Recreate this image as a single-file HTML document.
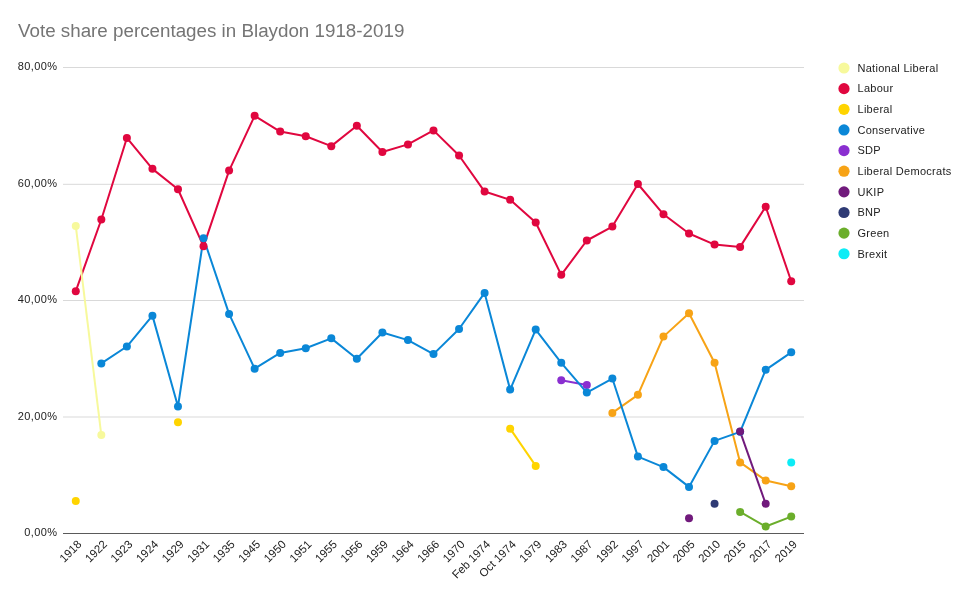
<!DOCTYPE html>
<html><head><meta charset="utf-8"><style>
html,body{margin:0;padding:0;background:#fff;width:960px;height:601px;overflow:hidden}
svg{display:block;will-change:transform}
text{font-family:"Liberation Sans",sans-serif}
.ti{font-size:18.8px;fill:#757575}
.ax{font-size:11.5px;fill:#222}
.ay{font-size:11px;fill:#222;letter-spacing:0.4px}
.lg{font-size:11px;fill:#222;letter-spacing:0.28px}
</style></head><body>
<svg width="960" height="601" viewBox="0 0 960 601">
<rect width="960" height="601" fill="#fff"/>
<text x="18" y="37.2" class="ti">Vote share percentages in Blaydon 1918-2019</text>
<rect x="63.0" y="416.50" width="741.0" height="1" fill="#d9d9d9"/>
<rect x="63.0" y="300.00" width="741.0" height="1" fill="#d9d9d9"/>
<rect x="63.0" y="183.80" width="741.0" height="1" fill="#d9d9d9"/>
<rect x="63.0" y="67.00" width="741.0" height="1" fill="#d9d9d9"/>
<rect x="63.0" y="533.0" width="741.0" height="1" fill="#5a5a5a"/>
<text x="57.4" y="536.40" text-anchor="end" class="ay">0,00%</text>
<text x="57.4" y="419.90" text-anchor="end" class="ay">20,00%</text>
<text x="57.4" y="303.40" text-anchor="end" class="ay">40,00%</text>
<text x="57.4" y="186.90" text-anchor="end" class="ay">60,00%</text>
<text x="57.4" y="70.40" text-anchor="end" class="ay">80,00%</text>
<text transform="translate(82.28,545) rotate(-45)" text-anchor="end" class="ax">1918</text>
<text transform="translate(107.83,545) rotate(-45)" text-anchor="end" class="ax">1922</text>
<text transform="translate(133.38,545) rotate(-45)" text-anchor="end" class="ax">1923</text>
<text transform="translate(158.93,545) rotate(-45)" text-anchor="end" class="ax">1924</text>
<text transform="translate(184.48,545) rotate(-45)" text-anchor="end" class="ax">1929</text>
<text transform="translate(210.03,545) rotate(-45)" text-anchor="end" class="ax">1931</text>
<text transform="translate(235.59,545) rotate(-45)" text-anchor="end" class="ax">1935</text>
<text transform="translate(261.14,545) rotate(-45)" text-anchor="end" class="ax">1945</text>
<text transform="translate(286.69,545) rotate(-45)" text-anchor="end" class="ax">1950</text>
<text transform="translate(312.24,545) rotate(-45)" text-anchor="end" class="ax">1951</text>
<text transform="translate(337.79,545) rotate(-45)" text-anchor="end" class="ax">1955</text>
<text transform="translate(363.34,545) rotate(-45)" text-anchor="end" class="ax">1956</text>
<text transform="translate(388.90,545) rotate(-45)" text-anchor="end" class="ax">1959</text>
<text transform="translate(414.45,545) rotate(-45)" text-anchor="end" class="ax">1964</text>
<text transform="translate(440.00,545) rotate(-45)" text-anchor="end" class="ax">1966</text>
<text transform="translate(465.55,545) rotate(-45)" text-anchor="end" class="ax">1970</text>
<text transform="translate(491.10,545) rotate(-45)" text-anchor="end" class="ax">Feb 1974</text>
<text transform="translate(516.66,545) rotate(-45)" text-anchor="end" class="ax">Oct 1974</text>
<text transform="translate(542.21,545) rotate(-45)" text-anchor="end" class="ax">1979</text>
<text transform="translate(567.76,545) rotate(-45)" text-anchor="end" class="ax">1983</text>
<text transform="translate(593.31,545) rotate(-45)" text-anchor="end" class="ax">1987</text>
<text transform="translate(618.86,545) rotate(-45)" text-anchor="end" class="ax">1992</text>
<text transform="translate(644.41,545) rotate(-45)" text-anchor="end" class="ax">1997</text>
<text transform="translate(669.97,545) rotate(-45)" text-anchor="end" class="ax">2001</text>
<text transform="translate(695.52,545) rotate(-45)" text-anchor="end" class="ax">2005</text>
<text transform="translate(721.07,545) rotate(-45)" text-anchor="end" class="ax">2010</text>
<text transform="translate(746.62,545) rotate(-45)" text-anchor="end" class="ax">2015</text>
<text transform="translate(772.17,545) rotate(-45)" text-anchor="end" class="ax">2017</text>
<text transform="translate(797.72,545) rotate(-45)" text-anchor="end" class="ax">2019</text>
<polyline points="740.12,511.95 765.67,526.51 791.22,516.61" fill="none" stroke="#6bae2b" stroke-width="2" stroke-linejoin="round"/>
<polyline points="612.36,412.92 637.91,394.87 663.47,336.62 689.02,313.31 714.57,362.83 740.12,462.44 765.67,480.49 791.22,486.32" fill="none" stroke="#f7a316" stroke-width="2" stroke-linejoin="round"/>
<polyline points="561.26,380.30 586.81,384.96" fill="none" stroke="#8a2fd0" stroke-width="2" stroke-linejoin="round"/>
<polyline points="101.33,363.41 126.88,346.52 152.43,315.64 177.98,406.51 203.53,238.17 229.09,313.90 254.64,368.65 280.19,352.92 305.74,348.26 331.29,338.36 356.84,358.75 382.40,332.54 407.95,340.11 433.50,354.09 459.05,329.04 484.60,292.93 510.16,389.62 535.71,329.62 561.26,362.83 586.81,392.53 612.36,378.55 637.91,456.61 663.47,467.10 689.02,486.90 714.57,440.88 740.12,431.85 765.67,369.82 791.22,352.34" fill="none" stroke="#0a87d7" stroke-width="2" stroke-linejoin="round"/>
<polyline points="740.12,431.56 765.67,503.79" fill="none" stroke="#711a7c" stroke-width="2" stroke-linejoin="round"/>
<polyline points="510.16,428.65 535.71,465.93" fill="none" stroke="#ffd400" stroke-width="2" stroke-linejoin="round"/>
<polyline points="75.78,291.18 101.33,219.53 126.88,137.98 152.43,168.86 177.98,189.24 203.53,246.33 229.09,170.60 254.64,115.85 280.19,131.57 305.74,136.23 331.29,146.14 356.84,125.75 382.40,151.96 407.95,144.39 433.50,130.41 459.05,155.46 484.60,191.57 510.16,199.73 535.71,222.44 561.26,274.87 586.81,240.50 612.36,226.52 637.91,184.00 663.47,214.29 689.02,233.51 714.57,244.58 740.12,246.91 765.67,206.72 791.22,281.28" fill="none" stroke="#e0073f" stroke-width="2" stroke-linejoin="round"/>
<polyline points="75.78,225.94 101.33,435.06" fill="none" stroke="#f7f99c" stroke-width="2" stroke-linejoin="round"/>
<circle cx="791.22" cy="462.44" r="4" fill="#0cecf6"/>
<circle cx="740.12" cy="511.95" r="4" fill="#6bae2b"/>
<circle cx="765.67" cy="526.51" r="4" fill="#6bae2b"/>
<circle cx="791.22" cy="516.61" r="4" fill="#6bae2b"/>
<circle cx="714.57" cy="503.79" r="4" fill="#2e3a74"/>
<circle cx="612.36" cy="412.92" r="4" fill="#f7a316"/>
<circle cx="637.91" cy="394.87" r="4" fill="#f7a316"/>
<circle cx="663.47" cy="336.62" r="4" fill="#f7a316"/>
<circle cx="689.02" cy="313.31" r="4" fill="#f7a316"/>
<circle cx="714.57" cy="362.83" r="4" fill="#f7a316"/>
<circle cx="740.12" cy="462.44" r="4" fill="#f7a316"/>
<circle cx="765.67" cy="480.49" r="4" fill="#f7a316"/>
<circle cx="791.22" cy="486.32" r="4" fill="#f7a316"/>
<circle cx="561.26" cy="380.30" r="4" fill="#8a2fd0"/>
<circle cx="586.81" cy="384.96" r="4" fill="#8a2fd0"/>
<circle cx="101.33" cy="363.41" r="4" fill="#0a87d7"/>
<circle cx="126.88" cy="346.52" r="4" fill="#0a87d7"/>
<circle cx="152.43" cy="315.64" r="4" fill="#0a87d7"/>
<circle cx="177.98" cy="406.51" r="4" fill="#0a87d7"/>
<circle cx="203.53" cy="238.17" r="4" fill="#0a87d7"/>
<circle cx="229.09" cy="313.90" r="4" fill="#0a87d7"/>
<circle cx="254.64" cy="368.65" r="4" fill="#0a87d7"/>
<circle cx="280.19" cy="352.92" r="4" fill="#0a87d7"/>
<circle cx="305.74" cy="348.26" r="4" fill="#0a87d7"/>
<circle cx="331.29" cy="338.36" r="4" fill="#0a87d7"/>
<circle cx="356.84" cy="358.75" r="4" fill="#0a87d7"/>
<circle cx="382.40" cy="332.54" r="4" fill="#0a87d7"/>
<circle cx="407.95" cy="340.11" r="4" fill="#0a87d7"/>
<circle cx="433.50" cy="354.09" r="4" fill="#0a87d7"/>
<circle cx="459.05" cy="329.04" r="4" fill="#0a87d7"/>
<circle cx="484.60" cy="292.93" r="4" fill="#0a87d7"/>
<circle cx="510.16" cy="389.62" r="4" fill="#0a87d7"/>
<circle cx="535.71" cy="329.62" r="4" fill="#0a87d7"/>
<circle cx="561.26" cy="362.83" r="4" fill="#0a87d7"/>
<circle cx="586.81" cy="392.53" r="4" fill="#0a87d7"/>
<circle cx="612.36" cy="378.55" r="4" fill="#0a87d7"/>
<circle cx="637.91" cy="456.61" r="4" fill="#0a87d7"/>
<circle cx="663.47" cy="467.10" r="4" fill="#0a87d7"/>
<circle cx="689.02" cy="486.90" r="4" fill="#0a87d7"/>
<circle cx="714.57" cy="440.88" r="4" fill="#0a87d7"/>
<circle cx="740.12" cy="431.85" r="4" fill="#0a87d7"/>
<circle cx="765.67" cy="369.82" r="4" fill="#0a87d7"/>
<circle cx="791.22" cy="352.34" r="4" fill="#0a87d7"/>
<circle cx="689.02" cy="518.36" r="4" fill="#711a7c"/>
<circle cx="740.12" cy="431.56" r="4" fill="#711a7c"/>
<circle cx="765.67" cy="503.79" r="4" fill="#711a7c"/>
<circle cx="75.78" cy="500.88" r="4" fill="#ffd400"/>
<circle cx="177.98" cy="422.24" r="4" fill="#ffd400"/>
<circle cx="510.16" cy="428.65" r="4" fill="#ffd400"/>
<circle cx="535.71" cy="465.93" r="4" fill="#ffd400"/>
<circle cx="75.78" cy="291.18" r="4" fill="#e0073f"/>
<circle cx="101.33" cy="219.53" r="4" fill="#e0073f"/>
<circle cx="126.88" cy="137.98" r="4" fill="#e0073f"/>
<circle cx="152.43" cy="168.86" r="4" fill="#e0073f"/>
<circle cx="177.98" cy="189.24" r="4" fill="#e0073f"/>
<circle cx="203.53" cy="246.33" r="4" fill="#e0073f"/>
<circle cx="229.09" cy="170.60" r="4" fill="#e0073f"/>
<circle cx="254.64" cy="115.85" r="4" fill="#e0073f"/>
<circle cx="280.19" cy="131.57" r="4" fill="#e0073f"/>
<circle cx="305.74" cy="136.23" r="4" fill="#e0073f"/>
<circle cx="331.29" cy="146.14" r="4" fill="#e0073f"/>
<circle cx="356.84" cy="125.75" r="4" fill="#e0073f"/>
<circle cx="382.40" cy="151.96" r="4" fill="#e0073f"/>
<circle cx="407.95" cy="144.39" r="4" fill="#e0073f"/>
<circle cx="433.50" cy="130.41" r="4" fill="#e0073f"/>
<circle cx="459.05" cy="155.46" r="4" fill="#e0073f"/>
<circle cx="484.60" cy="191.57" r="4" fill="#e0073f"/>
<circle cx="510.16" cy="199.73" r="4" fill="#e0073f"/>
<circle cx="535.71" cy="222.44" r="4" fill="#e0073f"/>
<circle cx="561.26" cy="274.87" r="4" fill="#e0073f"/>
<circle cx="586.81" cy="240.50" r="4" fill="#e0073f"/>
<circle cx="612.36" cy="226.52" r="4" fill="#e0073f"/>
<circle cx="637.91" cy="184.00" r="4" fill="#e0073f"/>
<circle cx="663.47" cy="214.29" r="4" fill="#e0073f"/>
<circle cx="689.02" cy="233.51" r="4" fill="#e0073f"/>
<circle cx="714.57" cy="244.58" r="4" fill="#e0073f"/>
<circle cx="740.12" cy="246.91" r="4" fill="#e0073f"/>
<circle cx="765.67" cy="206.72" r="4" fill="#e0073f"/>
<circle cx="791.22" cy="281.28" r="4" fill="#e0073f"/>
<circle cx="75.78" cy="225.94" r="4" fill="#f7f99c"/>
<circle cx="101.33" cy="435.06" r="4" fill="#f7f99c"/>
<circle cx="844" cy="68.00" r="5.6" fill="#f7f99c"/>
<text x="857.5" y="71.80" class="lg">National Liberal</text>
<circle cx="844" cy="88.64" r="5.6" fill="#e0073f"/>
<text x="857.5" y="92.44" class="lg">Labour</text>
<circle cx="844" cy="109.28" r="5.6" fill="#ffd400"/>
<text x="857.5" y="113.08" class="lg">Liberal</text>
<circle cx="844" cy="129.92" r="5.6" fill="#0a87d7"/>
<text x="857.5" y="133.72" class="lg">Conservative</text>
<circle cx="844" cy="150.56" r="5.6" fill="#8a2fd0"/>
<text x="857.5" y="154.36" class="lg">SDP</text>
<circle cx="844" cy="171.20" r="5.6" fill="#f7a316"/>
<text x="857.5" y="175.00" class="lg">Liberal Democrats</text>
<circle cx="844" cy="191.84" r="5.6" fill="#711a7c"/>
<text x="857.5" y="195.64" class="lg">UKIP</text>
<circle cx="844" cy="212.48" r="5.6" fill="#2e3a74"/>
<text x="857.5" y="216.28" class="lg">BNP</text>
<circle cx="844" cy="233.12" r="5.6" fill="#6bae2b"/>
<text x="857.5" y="236.92" class="lg">Green</text>
<circle cx="844" cy="253.76" r="5.6" fill="#0cecf6"/>
<text x="857.5" y="257.56" class="lg">Brexit</text>
</svg>
</body></html>
